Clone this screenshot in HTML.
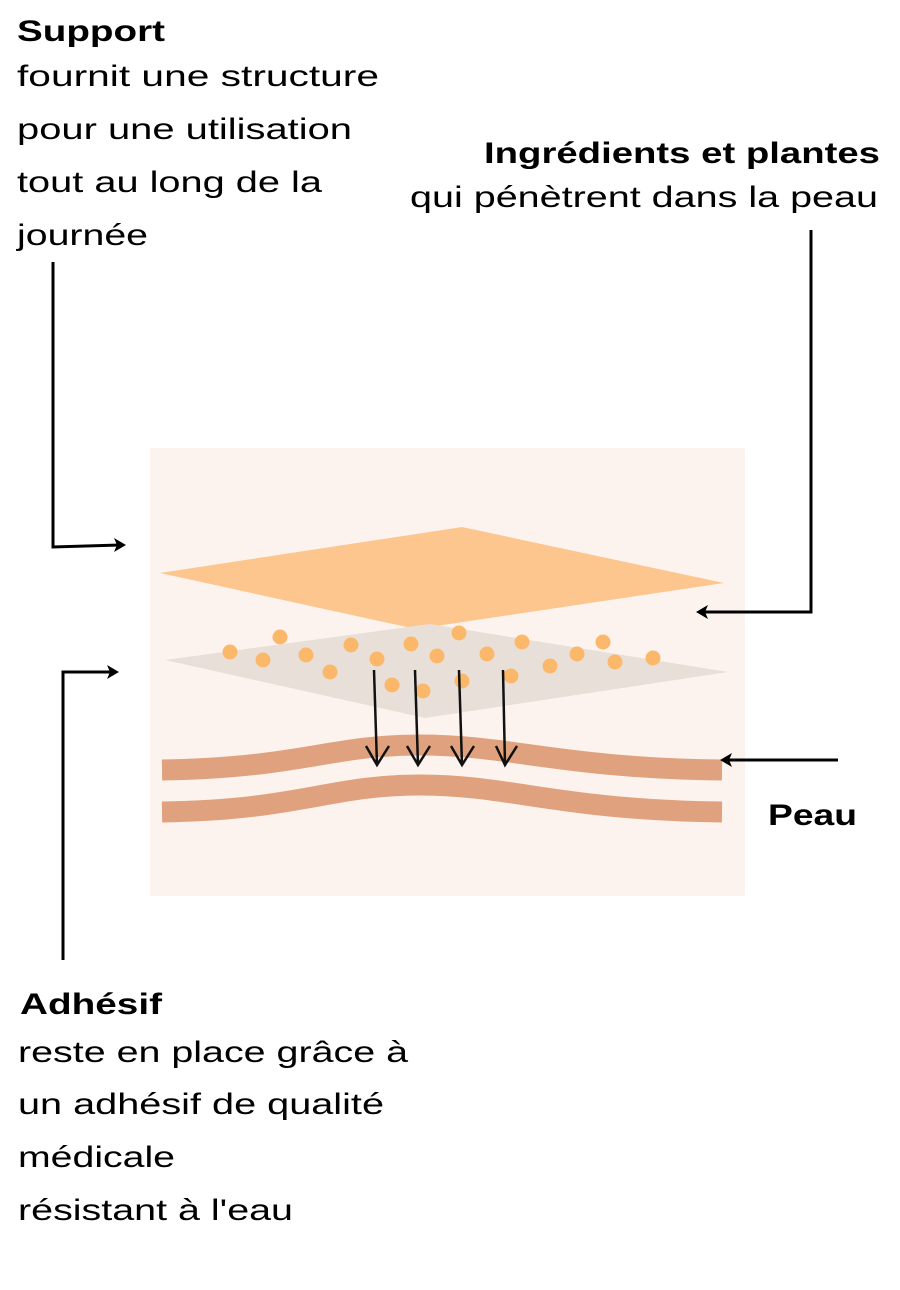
<!DOCTYPE html>
<html><head><meta charset="utf-8"><style>
html,body{margin:0;padding:0;background:#fff;}
svg{display:block;}
text{font-family:"Liberation Sans",sans-serif;font-size:30px;fill:#000;}
.b{font-weight:bold;}
</style></head><body>
<svg width="900" height="1290" viewBox="0 0 900 1290" xmlns="http://www.w3.org/2000/svg">
<rect x="150" y="448" width="595" height="448" fill="#fdf3ee"/>
<polygon points="160,573 462,527 724,583 416,629" fill="#fdc68f"/>
<polygon points="165,660 430,624 728,672 425,718" fill="#e8e0d8"/>
<g fill="#fbb86a">
<circle cx="230" cy="652" r="7.5"/><circle cx="280" cy="637" r="7.5"/><circle cx="263" cy="660" r="7.5"/><circle cx="306" cy="655" r="7.5"/><circle cx="351" cy="645" r="7.5"/><circle cx="330" cy="672" r="7.5"/><circle cx="377" cy="659" r="7.5"/><circle cx="392" cy="685" r="7.5"/><circle cx="411" cy="644" r="7.5"/><circle cx="437" cy="656" r="7.5"/><circle cx="423" cy="691" r="7.5"/><circle cx="459" cy="633" r="7.5"/><circle cx="487" cy="654" r="7.5"/><circle cx="462" cy="681" r="7.5"/><circle cx="511" cy="676" r="7.5"/><circle cx="522" cy="642" r="7.5"/><circle cx="550" cy="666" r="7.5"/><circle cx="577" cy="654" r="7.5"/><circle cx="603" cy="642" r="7.5"/><circle cx="615" cy="662" r="7.5"/><circle cx="653" cy="658" r="7.5"/>
</g>
<g fill="none" stroke="#e0a27e" stroke-width="21">
<path d="M162,770 C300,768 330,745 420,745 C510,745 560,768 722,770"/>
<path d="M162,812 C300,810 330,785 420,785 C510,785 560,810 722,812"/>
</g>
<g fill="none" stroke="#111" stroke-width="2.5">
<path d="M374,670 L377,765 M366,746 L377,765 L389,746"/>
<path d="M415,670 L418,765 M407,746 L418,765 L430,746"/>
<path d="M459,670 L462,765 M451,746 L462,765 L474,746"/>
<path d="M503,670 L505,765 M496,746 L505,765 L517,746"/>
</g>
<g fill="none" stroke="#000" stroke-width="3">
<path d="M53,262 L53,547 L120,545"/>
<path d="M811,230 L811,612 L703,612"/>
<path d="M838,760 L727,760"/>
<path d="M63,960 L63,672 L113,672"/>
</g>
<g fill="#000">
<polygon points="126,545 114,538 117,545 114,552"/>
<polygon points="696,612 708,605 705,612 708,619"/>
<polygon points="720,760 732,753 729,760 732,767"/>
<polygon points="119,672 107,665 110,672 107,679"/>
</g>
<text x="17" y="41" class="b" textLength="148" lengthAdjust="spacingAndGlyphs">Support</text>
<text x="17" y="86" textLength="362" lengthAdjust="spacingAndGlyphs">fournit une structure</text>
<text x="17" y="139" textLength="335" lengthAdjust="spacingAndGlyphs">pour une utilisation</text>
<text x="17" y="192" textLength="305" lengthAdjust="spacingAndGlyphs">tout au long de la</text>
<text x="17" y="245" textLength="131" lengthAdjust="spacingAndGlyphs">journée</text>
<text x="484" y="163" class="b" textLength="396" lengthAdjust="spacingAndGlyphs">Ingrédients et plantes</text>
<text x="410" y="207" textLength="468" lengthAdjust="spacingAndGlyphs">qui pénètrent dans la peau</text>
<text x="768" y="825" class="b" textLength="89" lengthAdjust="spacingAndGlyphs">Peau</text>
<text x="20" y="1014" class="b" textLength="142" lengthAdjust="spacingAndGlyphs">Adhésif</text>
<text x="18" y="1062" textLength="390" lengthAdjust="spacingAndGlyphs">reste en place grâce à</text>
<text x="18" y="1114" textLength="366" lengthAdjust="spacingAndGlyphs">un adhésif de qualité</text>
<text x="18" y="1167" textLength="157" lengthAdjust="spacingAndGlyphs">médicale</text>
<text x="18" y="1220" textLength="275" lengthAdjust="spacingAndGlyphs">résistant à l'eau</text>
</svg>
</body></html>
